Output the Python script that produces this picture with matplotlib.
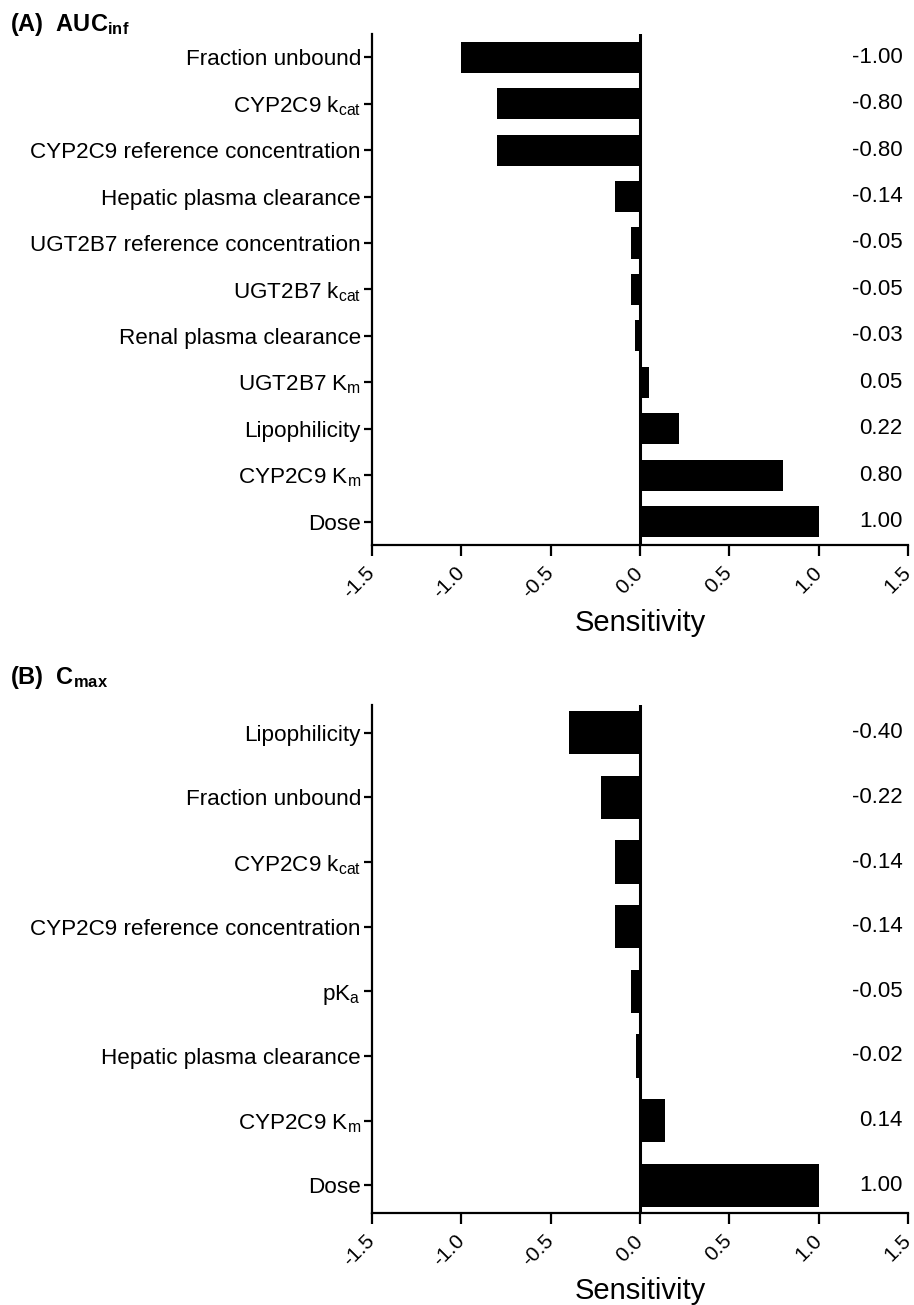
import matplotlib.pyplot as plt

plt.rcParams['font.family'] = ['Liberation Sans', 'DejaVu Sans']
plt.rcParams['mathtext.fontset'] = 'custom'
plt.rcParams['mathtext.rm'] = 'Liberation Sans'
plt.rcParams['mathtext.bf'] = 'Liberation Sans:bold'

auc_labels = ['Fraction unbound', r'CYP2C9 k$\mathregular{_{cat}}$',
              'CYP2C9 reference concentration', 'Hepatic plasma clearance',
              'UGT2B7 reference concentration', r'UGT2B7 k$\mathregular{_{cat}}$',
              'Renal plasma clearance', r'UGT2B7 K$\mathregular{_m}$',
              'Lipophilicity', r'CYP2C9 K$\mathregular{_m}$', 'Dose']
auc_values = [-1.00, -0.80, -0.80, -0.14, -0.05, -0.05, -0.03, 0.05, 0.22, 0.80, 1.00]

cmax_labels = ['Lipophilicity', 'Fraction unbound', r'CYP2C9 k$\mathregular{_{cat}}$',
               'CYP2C9 reference concentration', r'pK$\mathregular{_a}$',
               'Hepatic plasma clearance', r'CYP2C9 K$\mathregular{_m}$', 'Dose']
cmax_values = [-0.40, -0.22, -0.14, -0.14, -0.05, -0.02, 0.14, 1.00]

xticks = [-1.5, -1.0, -0.5, 0.0, 0.5, 1.0, 1.5]


def tornado(ax, labels, values, pad):
    n = len(labels)
    ypos = list(range(n))[::-1]
    ax.barh(ypos, values, height=0.67, color='black')
    ax.axvline(0, color='black', lw=2.2)
    for y, v in zip(ypos, values):
        ax.text(1.47, y, '%.2f' % v, ha='right', va='center', fontsize=16)
    ax.set_yticks(ypos)
    ax.set_yticklabels(labels, fontsize=16.2)
    ax.set_ylim(-pad, n - 1 + pad)
    ax.set_xlim(-1.5, 1.5)
    ax.set_xticks(xticks)
    ax.set_xticklabels(['%.1f' % t for t in xticks], rotation=45, fontsize=15,
                       ha='right', va='center', rotation_mode='anchor')
    ax.set_xlabel('Sensitivity', fontsize=21, labelpad=5)
    ax.spines['top'].set_visible(False)
    ax.spines['right'].set_visible(False)
    ax.spines['left'].set_linewidth(1.6)
    ax.spines['bottom'].set_linewidth(1.6)
    ax.tick_params(axis='y', length=6, width=1.6, pad=2)
    ax.tick_params(axis='x', length=8, width=1.6, pad=10)


fig = plt.figure(figsize=(9.14, 13.05), dpi=100)
ax1 = fig.add_axes([0.407, 0.5824, 0.5864, 0.3916])
ax2 = fig.add_axes([0.407, 0.0705, 0.5864, 0.3893])

tornado(ax1, auc_labels, auc_values, 0.5)
tornado(ax2, cmax_labels, cmax_values, 0.43)

fig.text(0.011, 0.981, r'(A)  AUC$\mathregular{_{inf}}$', fontsize=17, fontweight='bold',
         ha='left', va='center')
fig.text(0.011, 0.481, r'(B)  C$\mathregular{_{max}}$', fontsize=17, fontweight='bold',
         ha='left', va='center')

fig.savefig('out.png', dpi=100)
